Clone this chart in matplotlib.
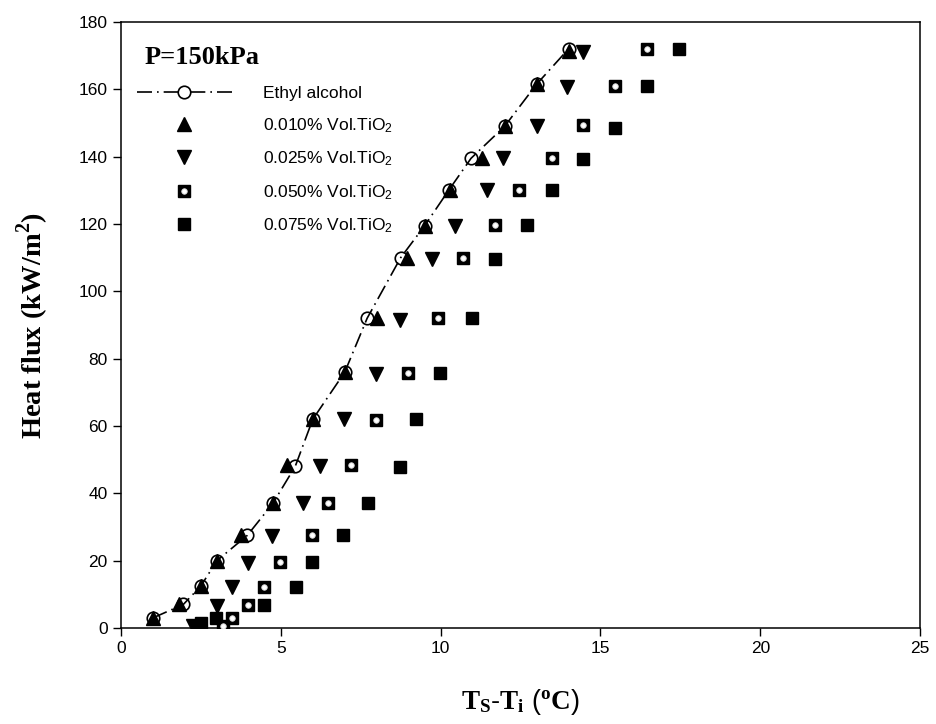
import numpy as np
import matplotlib
matplotlib.use("Agg")
import matplotlib.pyplot as plt
from matplotlib.legend_handler import HandlerTuple

plt.rcParams['font.family'] = ['Liberation Sans', 'DejaVu Sans']
plt.rcParams['mathtext.fontset'] = 'custom'
plt.rcParams['mathtext.rm'] = 'Liberation Serif:bold'
plt.rcParams['mathtext.bf'] = 'Liberation Serif:bold'
plt.rcParams['mathtext.sf'] = 'Liberation Sans'

# data
ethyl_x = [1.0, 1.95, 2.5, 3.0, 3.95, 4.75, 5.45, 6.0, 7.0, 7.7, 8.75, 9.5, 10.25, 10.95, 12.0, 13.0, 14.0]
ethyl_y = [3, 7, 12.5, 20, 27.5, 37, 48, 62, 76, 92, 110, 119.5, 130, 139.5, 149, 161.5, 172]

tio2_010_x = [1.0, 1.8, 2.5, 3.0, 3.75, 4.75, 5.2, 6.0, 7.0, 8.0, 8.95, 9.5, 10.3, 11.3, 12.0, 13.0, 14.0]
tio2_010_y = [3, 7, 12.5, 20, 27.5, 37, 48.4, 62, 76, 92, 110, 119.5, 130, 139.5, 149, 161.5, 171.5]

tio2_025_x = [2.25, 3.0, 3.47, 3.97, 4.73, 5.7, 6.23, 6.98, 7.98, 8.73, 9.73, 10.45, 11.46, 11.96, 13.0, 13.95, 14.45]
tio2_025_y = [0.5, 6.5, 12.2, 19.3, 27.3, 37, 48, 62, 75.5, 91.5, 109.5, 119.5, 130, 139.5, 149, 160.7, 171]

tio2_050_x = [3.2, 3.47, 3.97, 4.48, 4.98, 5.98, 6.48, 7.2, 7.98, 8.98, 9.92, 10.7, 11.7, 12.46, 13.49, 14.46, 15.45, 16.45]
tio2_050_y = [0.5, 3.0, 6.8, 12.3, 19.6, 27.6, 37.1, 48.4, 61.8, 75.7, 92, 110, 119.7, 130, 139.5, 149.3, 161, 172]

tio2_075_x = [2.5, 2.97, 4.48, 5.48, 5.98, 6.95, 7.73, 8.73, 9.23, 9.98, 10.98, 11.7, 12.7, 13.49, 14.46, 15.46, 16.45, 17.45]
tio2_075_y = [1.5, 3.0, 6.8, 12.3, 19.6, 27.6, 37.1, 47.8, 62, 75.7, 92, 109.5, 119.7, 130, 139.2, 148.5, 161, 172]

labels = ['Ethyl alcohol', '0.010% Vol.TiO$\\mathsf{_2}$', '0.025% Vol.TiO$\\mathsf{_2}$',
          '0.050% Vol.TiO$\\mathsf{_2}$', '0.075% Vol.TiO$\\mathsf{_2}$']

fig = plt.figure(figsize=(9.36, 7.24), dpi=100)
ax = fig.add_axes([0.1293, 0.1326, 0.8537, 0.837])

ms = 9
h0, = ax.plot(ethyl_x, ethyl_y, color='black', lw=1.2, linestyle=(0, (9, 3, 1, 3)),
              marker='o', mfc='none', mec='black', ms=ms, mew=1.2, zorder=3)
h1, = ax.plot(tio2_010_x, tio2_010_y, ls='none', marker='^', color='black', ms=ms + 0.5, zorder=4)
h2, = ax.plot(tio2_025_x, tio2_025_y, ls='none', marker='v', color='black', ms=ms + 0.5, zorder=4)
h3a, = ax.plot(tio2_050_x, tio2_050_y, ls='none', marker='s', color='black', ms=ms - 0.5, zorder=4)
h3b, = ax.plot(tio2_050_x, tio2_050_y, ls='none', marker='o', mfc='white', mec='#d0d0d0',
               mew=0.6, ms=4, zorder=5)
h4, = ax.plot(tio2_075_x, tio2_075_y, ls='none', marker='s', color='black', ms=ms, zorder=4)

# legend handle for ethyl alcohol: open circle shown white-filled
leg0, = ax.plot([], [], color='black', lw=1.2, linestyle=(0, (9, 3, 1, 3)),
                marker='o', mfc='white', mec='black', ms=ms, mew=1.2)

ax.set_xlim(0, 25)
ax.set_ylim(0, 180)
ax.set_xticks(np.arange(0, 26, 5))
ax.set_yticks(np.arange(0, 181, 20))
ax.tick_params(direction='out', length=6, width=1, labelsize=12.5)
for s in ax.spines.values():
    s.set_linewidth(1.1)

ax.set_xlabel(r'$\mathrm{T_S}$-$\mathrm{T_i}$ ($\mathrm{^oC}$)', fontsize=19.5, labelpad=22)
ax.set_ylabel(r'Heat flux (kW/m$^{\mathbf{2}}$)', family='Liberation Serif', weight='bold',
              fontsize=20.5, labelpad=20)

ax.text(0.75, 169.6, 'P=150kPa', family='Liberation Serif', weight='bold', fontsize=19,
        va='center', ha='left')

ax.legend([leg0, h1, h2, (h3a, h3b), h4], labels, loc='upper left', frameon=False,
          bbox_to_anchor=(0.0, 0.92), fontsize=12.5, handlelength=5.5, handletextpad=1.8,
          labelspacing=0.85, handler_map={tuple: HandlerTuple(ndivide=1, pad=0)})

fig.savefig('out.png', dpi=100)
